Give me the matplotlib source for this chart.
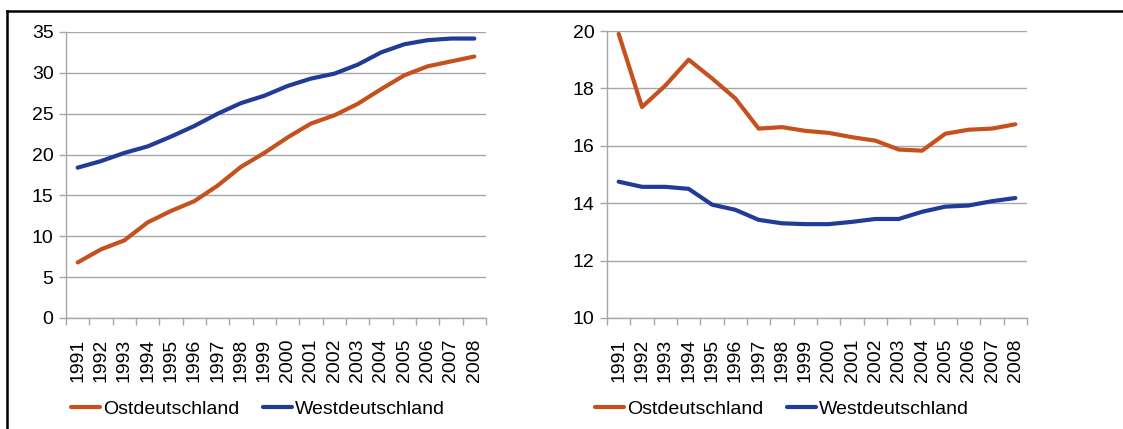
import matplotlib
matplotlib.use("Agg")
import matplotlib.pyplot as plt
from matplotlib.lines import Line2D

plt.rcParams['font.family'] = ['Liberation Sans', 'DejaVu Sans']

years = [str(y) for y in range(1991, 2009)]

# left panel
ost_left = [6.8, 8.4, 9.5, 11.7, 13.1, 14.3, 16.2, 18.5, 20.2, 22.1,
            23.8, 24.8, 26.2, 28.0, 29.7, 30.8, 31.4, 32.0]
west_left = [18.4, 19.2, 20.2, 21.0, 22.2, 23.5, 25.0, 26.3, 27.2, 28.4,
             29.3, 29.9, 31.0, 32.5, 33.5, 34.0, 34.2, 34.2]

# right panel
ost_right = [19.9, 17.35, 18.1, 19.0, 18.35, 17.65, 16.6, 16.65, 16.52, 16.45,
             16.3, 16.18, 15.87, 15.83, 16.42, 16.56, 16.6, 16.75]
west_right = [14.75, 14.57, 14.57, 14.5, 13.95, 13.77, 13.42, 13.3, 13.27, 13.27,
              13.35, 13.45, 13.45, 13.7, 13.88, 13.92, 14.07, 14.18]

ost_color = '#C4511E'
west_color = '#213C97'
grid_color = '#A6A6A6'
fs = 14

W, H = 1123, 429
fig = plt.figure(figsize=(W / 100, H / 100), dpi=100)


def panel(rect, ost, west, ylim, step):
    ax = fig.add_axes(rect)
    x = list(range(len(years)))
    ax.plot(x, ost, color=ost_color, lw=3, solid_capstyle='round', label='Ostdeutschland')
    ax.plot(x, west, color=west_color, lw=3, solid_capstyle='round', label='Westdeutschland')
    ax.set_xlim(-0.5, len(years) - 0.5)
    ax.set_ylim(*ylim)
    ax.set_yticks(range(ylim[0], ylim[1] + 1, step))
    ax.yaxis.grid(True, color=grid_color, lw=1)
    ax.set_axisbelow(True)
    ax.set_xticks(x)
    ax.set_xticklabels(years, rotation=90, fontsize=fs)
    ax.set_xticks([i - 0.5 for i in range(len(years) + 1)], minor=True)
    ax.tick_params(axis='x', which='major', length=0, pad=15)
    ax.tick_params(axis='x', which='minor', length=5, color=grid_color, width=1)
    ax.tick_params(axis='y', length=5, color=grid_color, width=1, labelsize=fs, pad=4)
    for s in ['top', 'right']:
        ax.spines[s].set_visible(False)
    for s in ['left', 'bottom']:
        ax.spines[s].set_color(grid_color)
        ax.spines[s].set_linewidth(1)
    return ax


def legend(ax, cx):
    h, l = ax.get_legend_handles_labels()
    fig.legend(h, l, loc='center', bbox_to_anchor=(cx, 1 - 409 / H), ncol=2,
               frameon=False, fontsize=fs, handlelength=1.5, handletextpad=0.15,
               columnspacing=1.25, borderpad=0)


ax1 = panel([66 / W, 1 - 318 / H, (486 - 66) / W, (318 - 32) / H], ost_left, west_left, (0, 35), 5)
ax2 = panel([607 / W, 1 - 318 / H, (1027 - 607) / W, (318 - 31) / H], ost_right, west_right, (10, 20), 2)
legend(ax1, 258 / W)
legend(ax2, 782 / W)

# outer frame (top and left edge)
fig.add_artist(Line2D([7 / W, 1.0], [1 - 11 / H] * 2, color='black', lw=1.8, transform=fig.transFigure))
fig.add_artist(Line2D([7 / W] * 2, [0.0, 1 - 11 / H], color='black', lw=1.8, transform=fig.transFigure))

fig.savefig('out.png', dpi=100)
